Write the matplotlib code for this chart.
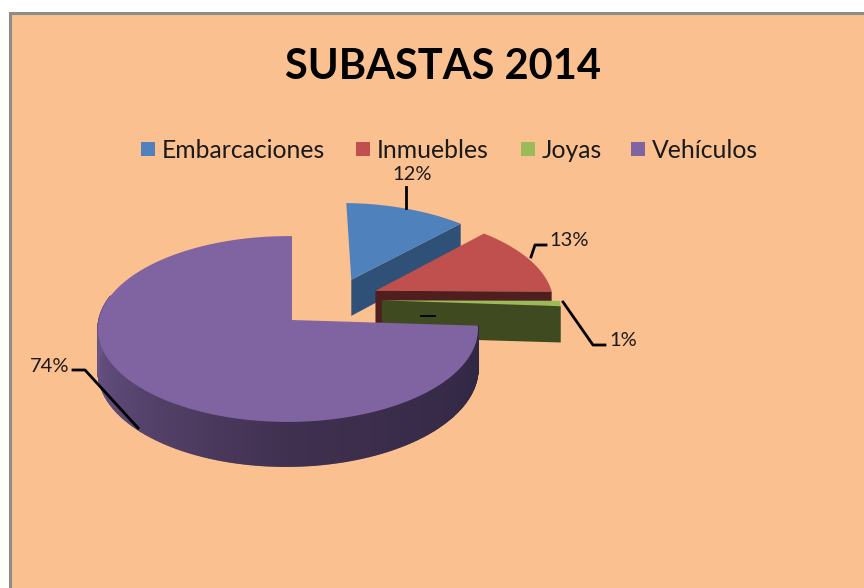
import matplotlib
matplotlib.use('Agg')
import matplotlib.pyplot as plt
from matplotlib.patches import Polygon, Rectangle
from matplotlib.colors import to_rgb
import numpy as np

categories = ['Embarcaciones', 'Inmuebles', 'Joyas', 'Vehículos']
values = [12, 13, 1, 74]
title = 'SUBASTAS 2014'

top_colors = ['#4f81bd', '#c0504d', '#9bbb59', '#8064a2']
wall_colors = ['#2f5077', '#4f1f20', '#3f4a20', '#5f4b7c']
explode = [(0.33, 0.46), (0.46, 0.33), (0.49, 0.22), (0.0, 0.0)]
BG = '#fbc08f'

# pie centre and radii in pixels, k and m give the perspective
cx, cy = 292, 320
R, Ry = 189, 92
k, m = 0.097, 0.021
depth = 38


def proj(gx, gy, z=0.0):
    s = 1 / (1 + k * gy + m * gx)
    return cx + R * gx * s, cy - Ry * gy * s + z * s


def arc(a0, a1, off):
    th = np.radians(np.linspace(a0, a1, max(int(a1 - a0), 2) * 2))
    return off[0] + np.sin(th), off[1] + np.cos(th)


fig = plt.figure(figsize=(8.64, 5.88), dpi=100, facecolor='white')
ax = fig.add_axes([0, 0, 1, 1])
ax.set_xlim(0, 864)
ax.set_ylim(588, 0)
ax.axis('off')

# chart frame
ax.add_patch(Rectangle((10, 13), 880, 600, fc=BG, ec='#8c8c8c', lw=2.2, zorder=0))

angles = np.concatenate([[0], np.cumsum(values) / np.sum(values) * 360])

# blue wall
a0, a1 = angles[0], angles[1]
ox, oy = explode[0]
ex, ey = ox + np.sin(np.radians(a1)), oy + np.cos(np.radians(a1))
ax.add_patch(Polygon([proj(ox, oy), proj(ex, ey), proj(ex, ey, depth), proj(ox, oy, depth)],
                     fc=wall_colors[0], ec='none', zorder=1))
gx, gy = arc(a0, a1, explode[0])
pts = [proj(ox, oy)] + [proj(a, b) for a, b in zip(gx, gy)]
ax.add_patch(Polygon(pts, fc=top_colors[0], ec='none', zorder=2))

# red wall and top
a0, a1 = angles[1], angles[2]
ox, oy = explode[1]
ex, ey = ox + np.sin(np.radians(a1)), oy + np.cos(np.radians(a1))
ax.add_patch(Polygon([proj(ox, oy), proj(ex, ey), proj(ex, ey, depth), proj(ox, oy, depth)],
                     fc=wall_colors[1], ec='none', zorder=3))
gx, gy = arc(a0, a1, explode[1])
pts = [proj(ox, oy)] + [proj(a, b) for a, b in zip(gx, gy)]
ax.add_patch(Polygon(pts, fc=top_colors[1], ec='none', zorder=4))

# green wall and sliver
a0, a1 = angles[2], angles[3]
ox, oy = explode[2]
ex, ey = ox + np.sin(np.radians(a1)), oy + np.cos(np.radians(a1))
ax.add_patch(Polygon([proj(ox, oy), proj(ex, ey), proj(ex, ey, depth), proj(ox, oy, depth)],
                     fc=wall_colors[2], ec='none', zorder=5))
gx, gy = arc(a0, a1, explode[2])
pts = [proj(ox, oy)] + [proj(a, b) for a, b in zip(gx, gy)]
ax.add_patch(Polygon(pts, fc=top_colors[2], ec='none', zorder=6))

# stray leader inside the green wall
ax.plot([421, 435], [316, 316], color='black', lw=1.3, zorder=7)

# purple outer wall, shaded piece by piece, back part stays hidden
a0, a1 = angles[3], angles[4]
gx, gy = arc(a0, a1, explode[3])
dark = np.array(to_rgb('#2e2642'))
mid = np.array(to_rgb('#40304f'))
light = np.array(to_rgb('#6a5488'))
for i in range(len(gx) - 1):
    a = np.degrees(np.arctan2(gx[i], gy[i])) % 360
    if a > 285:
        continue
    quad = [proj(gx[i], gy[i]), proj(gx[i + 1], gy[i + 1]),
            proj(gx[i + 1], gy[i + 1], depth + 2), proj(gx[i], gy[i], depth + 2)]
    t = np.interp(a, [90, 180, 270], [0, 0.35, 1])
    c = np.array([np.interp(t, [0, 0.35, 1], [dark[j], mid[j], light[j]]) for j in range(3)])
    ax.add_patch(Polygon(quad, fc=c, ec=c, lw=1.0, zorder=8))
pts = [proj(0, 0)] + [proj(a, b) for a, b in zip(gx, gy)]
ax.add_patch(Polygon(pts, fc=top_colors[3], ec='none', zorder=9))

# title and legend
ax.text(443, 67, title, ha='center', va='center', fontsize=30, fontweight='bold',
        family='Lato', color='black', zorder=10)
box_x = [141, 356, 521, 631]
text_x = [162, 377, 542, 652]
for c, name, bx, tx in zip(top_colors, categories, box_x, text_x):
    ax.add_patch(Rectangle((bx, 142), 14, 14, fc=c, ec='none', zorder=10))
    ax.text(tx, 150, name, ha='left', va='center', fontsize=17.8, family='Lato',
            color='#1a1a1a', zorder=10)

# percentage labels and leader lines
label_pos = [(412, 175), (569, 241), (623, 340), (50, 366)]
leaders = [[(406, 187), (406, 208)],
           [(546, 245), (535, 245), (531, 257)],
           [(605, 345), (593, 345), (563, 302)],
           [(73, 370), (85, 370), (138, 428)]]
for v, p, line in zip(values, label_pos, leaders):
    ax.text(p[0], p[1], f'{v}%', ha='center', va='center', fontsize=14.5, family='Lato',
            color='#1a1a1a', zorder=12)
    ax.plot(*zip(*line), color='black', lw=2, zorder=11)

plt.savefig('out.png', dpi=100)
